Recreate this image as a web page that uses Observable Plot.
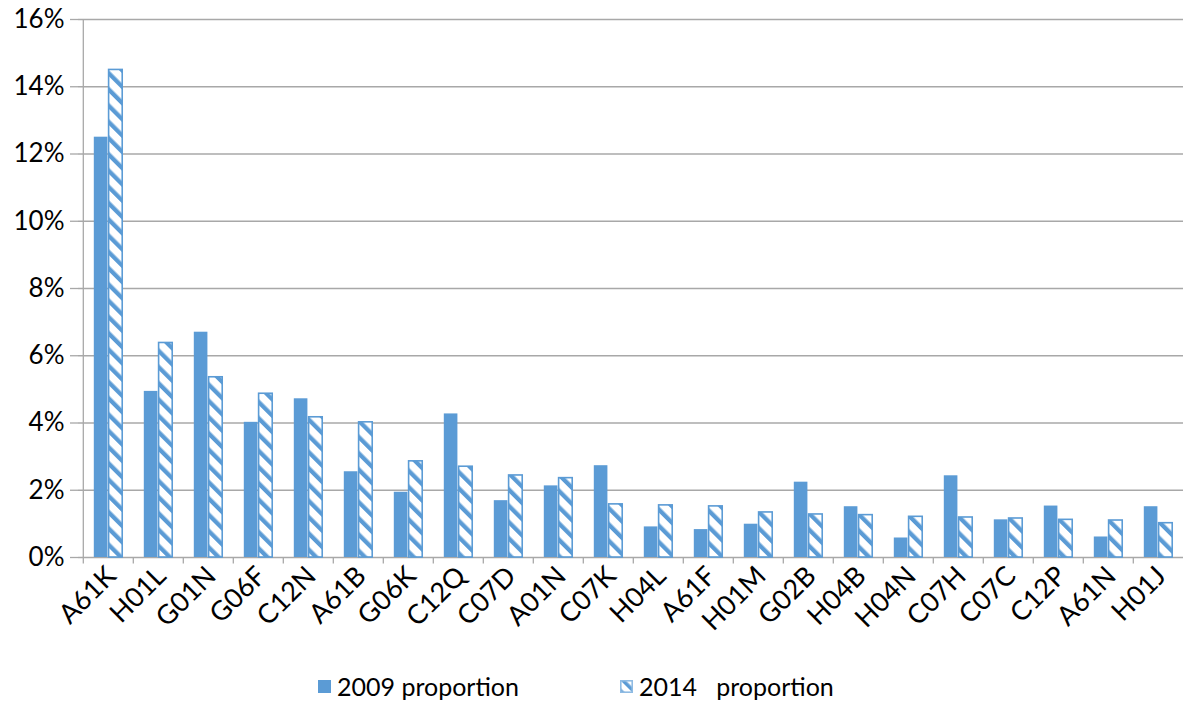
<!DOCTYPE html>
<html><head><meta charset="utf-8">
<script src="https://cdn.jsdelivr.net/npm/d3@7"></script>
<script src="https://cdn.jsdelivr.net/npm/@observablehq/plot@0.6"></script>
<style>
html,body{margin:0;padding:0;background:#fff;}
body{font-family:Lato,"Open Sans",sans-serif;width:1183px;height:702px;position:relative;overflow:hidden;}
#chart{position:absolute;left:0;top:0;}
.leg{position:absolute;top:671px;font-size:25px;color:#000;white-space:pre;display:flex;align-items:center;line-height:30px;}
.leg svg{margin-right:6px;}
</style></head><body>
<div id="chart"></div>
<div class="leg" id="leg1" style="left:318px"></div>
<div class="leg" id="leg2" style="left:620px"></div>
<script>
const categories = ["A61K","H01L","G01N","G06F","C12N","A61B","G06K","C12Q","C07D","A01N","C07K","H04L","A61F","H01M","G02B","H04B","H04N","C07H","C07C","C12P","A61N","H01J"];
const values2009 = [0.125,0.0494,0.067,0.0402,0.0472,0.0255,0.0194,0.0427,0.0169,0.0213,0.0273,0.0091,0.0083,0.0099,0.0224,0.0151,0.0058,0.0243,0.0112,0.0153,0.0061,0.0151];
const values2014 = [0.145,0.0638,0.0536,0.0487,0.0417,0.0402,0.0286,0.027,0.0244,0.0236,0.0158,0.0155,0.0152,0.0134,0.0128,0.0126,0.0121,0.0119,0.0116,0.0112,0.011,0.0102];
const yTicks = [0,0.02,0.04,0.06,0.08,0.10,0.12,0.14,0.16];
const seriesNames = ["2009 proportion","2014   proportion"];

const blue = "#5b9bd5";
const grid = "#a8a8a8";
const data = categories.map((c,i)=>({cat:c, v2009:values2009[i], v2014:values2014[i]}));
const W = 1183, H = 665;
const xRange = [78.5, 1187];
const bw = (xRange[1]-xRange[0])/categories.length;

const plot = Plot.plot({
  width: W, height: H,
  marginTop: 19, marginBottom: 108, marginLeft: 78, marginRight: 0,
  style: {fontFamily: "Lato, 'Open Sans', sans-serif", background: "#fff", overflow: "visible"},
  x: {type: "band", domain: categories, range: xRange, padding: 0},
  y: {type: "linear", domain: [0, 0.16], ticks: yTicks},
  marks: [
    Plot.ruleY(yTicks, {y: d=>d, stroke: grid, strokeWidth: 1.3}),
    Plot.barY(data, {x: "cat", y: "v2009", fill: blue, insetLeft: 10.8, insetRight: bw-24.8}),
    Plot.barY(data, {x: "cat", y: "v2014", fill: "url(#hatch2014)", stroke: blue, strokeWidth: 1.6, insetLeft: 25.6, insetRight: bw-39.6}),
    Plot.ruleX(categories, {x: d=>d, dx: -bw/2, y1: 0, y2: -0.0019, stroke: grid, strokeWidth: 1.3}),
    Plot.ruleX(categories.slice(0,1), {x: d=>d, dx: -bw/2, y1: 0, y2: 0.16, stroke: grid, strokeWidth: 1.3}),
    Plot.axisY({ticks: yTicks, tickFormat: d3.format(".0%"), tickSize: 8, tickPadding: 6, fontSize: 26, stroke: grid, strokeWidth: 1.3, color: "#000", label: null}),
    Plot.axisX({tickRotate: -45, tickSize: 0, tickPadding: 14, dx: 3, fontSize: 27, label: null, color: "#000"})
  ]
});

const svg = d3.select(plot);
svg.style("overflow","visible");
const defs = svg.insert("defs", ":first-child");
const pat = defs.append("pattern").attr("id","hatch2014").attr("patternUnits","userSpaceOnUse")
  .attr("width",11.5).attr("height",11.5).attr("patternTransform","rotate(-45)");
pat.append("rect").attr("width",11.5).attr("height",11.5).attr("fill","#fff");
pat.append("rect").attr("width",4.3).attr("height",11.5).attr("fill",blue);
document.getElementById("chart").appendChild(plot);

function sw(kind){
  const s = d3.create("svg").attr("width",13).attr("height",13);
  if(kind===0){ s.append("rect").attr("width",13).attr("height",13).attr("fill",blue); }
  else {
    const p = s.append("defs").append("pattern").attr("id","hatchLeg").attr("patternUnits","userSpaceOnUse")
      .attr("width",9).attr("height",9).attr("patternTransform","rotate(-45)");
    p.append("rect").attr("width",9).attr("height",9).attr("fill","#fff");
    p.append("rect").attr("width",3.6).attr("height",9).attr("fill",blue);
    s.append("rect").attr("x",0.8).attr("y",0.8).attr("width",11.4).attr("height",11.4).attr("fill","url(#hatchLeg)").attr("stroke","#8fbbe3").attr("stroke-width",1.6);
  }
  return s.node();
}
[0,1].forEach(i=>{
  const el = document.getElementById("leg"+(i+1));
  el.appendChild(sw(i));
  const t = document.createElement("span"); t.textContent = seriesNames[i]; el.appendChild(t);
});
</script>
</body></html>
